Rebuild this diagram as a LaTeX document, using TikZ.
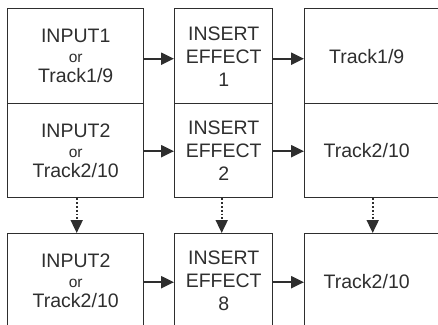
\documentclass[tikz,border=0pt]{standalone}
\usepackage{fontspec}
\setmainfont{Liberation Sans}
\usetikzlibrary{arrows.meta,calc}
\definecolor{ink}{HTML}{2E2E2E}
\newcommand\mainsz{\fontsize{19.5}{20}\selectfont}
\newcommand\orsz{\fontsize{15.5}{14}\selectfont}
\begin{document}
\begin{tikzpicture}[x=1pt,y=-1pt,
  box/.style={draw=ink,line width=1.4pt,minimum width=#1,inner sep=0pt,
    anchor=north west,align=center,text=ink,font=\mainsz},
  effbox/.style={box=98pt,font=\fontsize{19.5}{23}\selectfont},
  flow/.style={draw=ink,line width=2.2pt,-{Triangle[length=13pt,width=12pt]}},
  dotflow/.style={draw=ink,line width=1.8pt,dotted,-{Triangle[length=13pt,width=12pt]}}]
\useasboundingbox (0,0) rectangle (438,324);
\begin{scope}
\clip (0,0) rectangle (438,324);
% column 1
\node[box=136pt,minimum height=95pt] (a1) at (7,8) {INPUT1\\{\orsz or}\\Track1/9};
\node[box=136pt,minimum height=94pt] (a2) at (7,103) {INPUT2\\{\orsz or}\\Track2/10};
\node[box=136pt,minimum height=95pt] (a3) at (7,233) {INPUT2\\{\orsz or}\\Track2/10};
% column 2
\node[effbox,minimum height=95pt] (b1) at (174,8) {INSERT\\EFFECT\\1};
\node[effbox,minimum height=94pt] (b2) at (174,103) {INSERT\\EFFECT\\2};
\node[effbox,minimum height=95pt] (b3) at (174,233) {INSERT\\EFFECT\\8};
% column 3
\node[box=136pt,minimum height=95pt] (c1) at (304,8) {Track1/9\hspace*{12pt}};
\node[box=136pt,minimum height=94pt] (c2) at (304,103) {Track2/10\hspace*{12pt}};
\node[box=136pt,minimum height=95pt] (c3) at (304,233) {Track2/10\hspace*{12pt}};
% solid arrows
\draw[flow] ($(a1.east)+(0,2.5)$) -- ($(b1.west)+(0,2.5)$);
\draw[flow] ($(b1.east)+(0,2.5)$) -- ($(c1.west)+(0,2.5)$);
\draw[flow] ($(a2.east)+(0,0.5)$) -- ($(b2.west)+(0,0.5)$);
\draw[flow] ($(b2.east)+(0,0.5)$) -- ($(c2.west)+(0,0.5)$);
\draw[flow] ($(a3.east)+(0,1)$) -- ($(b3.west)+(0,1)$);
\draw[flow] ($(b3.east)+(0,1)$) -- ($(c3.west)+(0,1)$);
% dotted arrows
\draw[dotflow] ($(a2.south)+(1,0)$) -- ($(a3.north)+(1,0)$);
\draw[dotflow] ($(b2.south)+(-2,0)$) -- ($(b3.north)+(-2,0)$);
\draw[dotflow] (c2.south) -- (c3.north);
\end{scope}
\end{tikzpicture}
\end{document}
